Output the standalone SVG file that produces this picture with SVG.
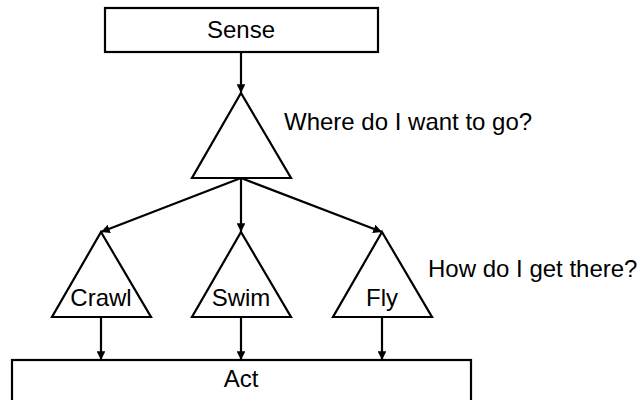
<svg xmlns="http://www.w3.org/2000/svg" width="640" height="400" viewBox="0 0 640 400">
  <style>
    .shape { fill: #fff; stroke: #000; stroke-width: 2.2; }
    .edge { fill: none; stroke: #000; stroke-width: 2.2; }
    text { font-family: "Liberation Sans", Arial, sans-serif; font-size: 24px; fill: #000; }
    .c { text-anchor: middle; }
  </style>
  <defs>
    <marker id="arrow" viewBox="0 0 10 10" refX="10" refY="5" markerWidth="4" markerHeight="4" orient="auto" markerUnits="strokeWidth">
      <path d="M0,0 L10,5 L0,10 z" fill="#000"/>
    </marker>
  </defs>
  <rect width="640" height="400" fill="#fff"/>

  <g id="connectors">
    <line class="edge" x1="241" y1="52" x2="241" y2="93" marker-end="url(#arrow)"/>
    <line class="edge" x1="241" y1="178" x2="101" y2="232" marker-end="url(#arrow)"/>
    <line class="edge" x1="241" y1="178" x2="241" y2="232" marker-end="url(#arrow)"/>
    <line class="edge" x1="241" y1="178" x2="382" y2="232" marker-end="url(#arrow)"/>
    <line class="edge" x1="101" y1="317" x2="101" y2="360" marker-end="url(#arrow)"/>
    <line class="edge" x1="241" y1="317" x2="241" y2="360" marker-end="url(#arrow)"/>
    <line class="edge" x1="382" y1="317" x2="382" y2="360" marker-end="url(#arrow)"/>
  </g>

  <g id="sense">
    <rect class="shape" x="105" y="8" width="273" height="44"/>
    <text class="c" x="241" y="38">Sense</text>
  </g>

  <g id="goal">
    <polygon class="shape" points="241,93 291,178 192,178"/>
    <text x="284" y="130">Where do I want to go?</text>
  </g>

  <g id="crawl">
    <polygon class="shape" points="101,232 151,317 52,317"/>
    <text class="c" x="101" y="306">Crawl</text>
  </g>

  <g id="swim">
    <polygon class="shape" points="241,232 291,317 192,317"/>
    <text class="c" x="241" y="306">Swim</text>
  </g>

  <g id="fly">
    <polygon class="shape" points="382,232 432,317 333,317"/>
    <text class="c" x="382" y="306">Fly</text>
  </g>

  <g id="how">
    <text x="428" y="277">How do I get there?</text>
  </g>

  <g id="act">
    <rect class="shape" x="12" y="360" width="459" height="60"/>
    <text class="c" x="241" y="387">Act</text>
  </g>
</svg>
